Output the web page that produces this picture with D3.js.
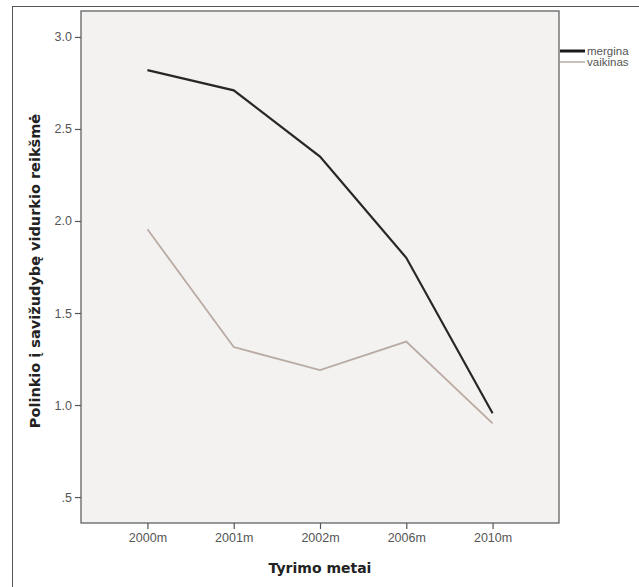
<!DOCTYPE html>
<html><head><meta charset="utf-8">
<script src="https://cdn.jsdelivr.net/npm/d3@7/dist/d3.min.js"></script>
<style>body{margin:0;background:#fff}svg{display:block}</style>
</head><body>
<script>
const categories = ["2000m","2001m","2002m","2006m","2010m"];
const mergina = [2.82, 2.71, 2.35, 1.80, 0.955];
const vaikinas = [1.955, 1.315, 1.19, 1.345, 0.90];
const yTicks = [0.5, 1.0, 1.5, 2.0, 2.5, 3.0];
const seriesNames = ["mergina","vaikinas"];

const W = 639, H = 587;
const svg = d3.select("body").append("svg").attr("width", W).attr("height", H);

// outer frame (clipped by canvas)
svg.append("rect").attr("x",12.5).attr("y",6.5).attr("width",W+20).attr("height",H+20)
  .attr("fill","#fff").attr("stroke","#555").attr("stroke-width",1);

const L = 81, T = 11, R = 559, B = 523;
const x = d3.scalePoint().domain(categories).range([L, R]).padding(0.77);
const y = d3.scaleLinear().domain([0.359, 3.141]).range([B, T]);

svg.append("rect").attr("x",L).attr("y",T).attr("width",R-L).attr("height",B-T)
  .attr("fill","#f3f2f0").attr("stroke","#555").attr("stroke-width",1.2);

const yAxis = svg.append("g").attr("transform",`translate(${L},0)`)
  .call(d3.axisLeft(y).tickValues(yTicks).tickSize(6).tickPadding(3)
    .tickFormat(d => d === 0.5 ? ".5" : d3.format(".1f")(d)));
const xAxis = svg.append("g").attr("transform",`translate(0,${B})`)
  .call(d3.axisBottom(x).tickSize(6).tickPadding(4));
[yAxis, xAxis].forEach(g => {
  g.select(".domain").remove();
  g.selectAll("line").attr("stroke","#555").attr("stroke-width",1.2);
  g.selectAll("text").attr("fill","#555").style("font-family","'Liberation Sans', Arial, sans-serif").style("font-size","12.5px");
});

const line = d3.line().x((d,i) => x(categories[i])).y(d => y(d));
svg.append("path").datum(vaikinas).attr("d", line).attr("fill","none")
  .attr("stroke","#b9aba3").attr("stroke-width",1.8);
svg.append("path").datum(mergina).attr("d", line).attr("fill","none")
  .attr("stroke","#2a2626").attr("stroke-width",2.2);

// legend
const leg = svg.append("g");
const legStyle = [{c:"#1a1a1a", w:3}, {c:"#b9aba3", w:1.5}];
seriesNames.forEach((n,i) => {
  const yy = 51 + i*11;
  leg.append("line").attr("x1",560).attr("x2",585).attr("y1",yy).attr("y2",yy)
    .attr("stroke",legStyle[i].c).attr("stroke-width",legStyle[i].w);
  leg.append("text").attr("x",587).attr("y",yy+4).text(n)
    .attr("fill","#555").style("font-family","'Liberation Sans Narrow','Liberation Sans', Arial, sans-serif").style("font-size","11.5px");
});

// axis titles
svg.append("text").attr("x",320).attr("y",573).attr("text-anchor","middle")
  .style("font-family","'DejaVu Sans', sans-serif").style("font-weight","bold").style("font-size","14px")
  .attr("fill","#222").text("Tyrimo metai");
svg.append("text").attr("transform","translate(40,271) rotate(-90)").attr("text-anchor","middle")
  .style("font-family","'DejaVu Sans', sans-serif").style("font-weight","bold").style("font-size","14.5px")
  .attr("fill","#222").text("Polinkio į savižudybę vidurkio reikšmė");
</script>
</body></html>
